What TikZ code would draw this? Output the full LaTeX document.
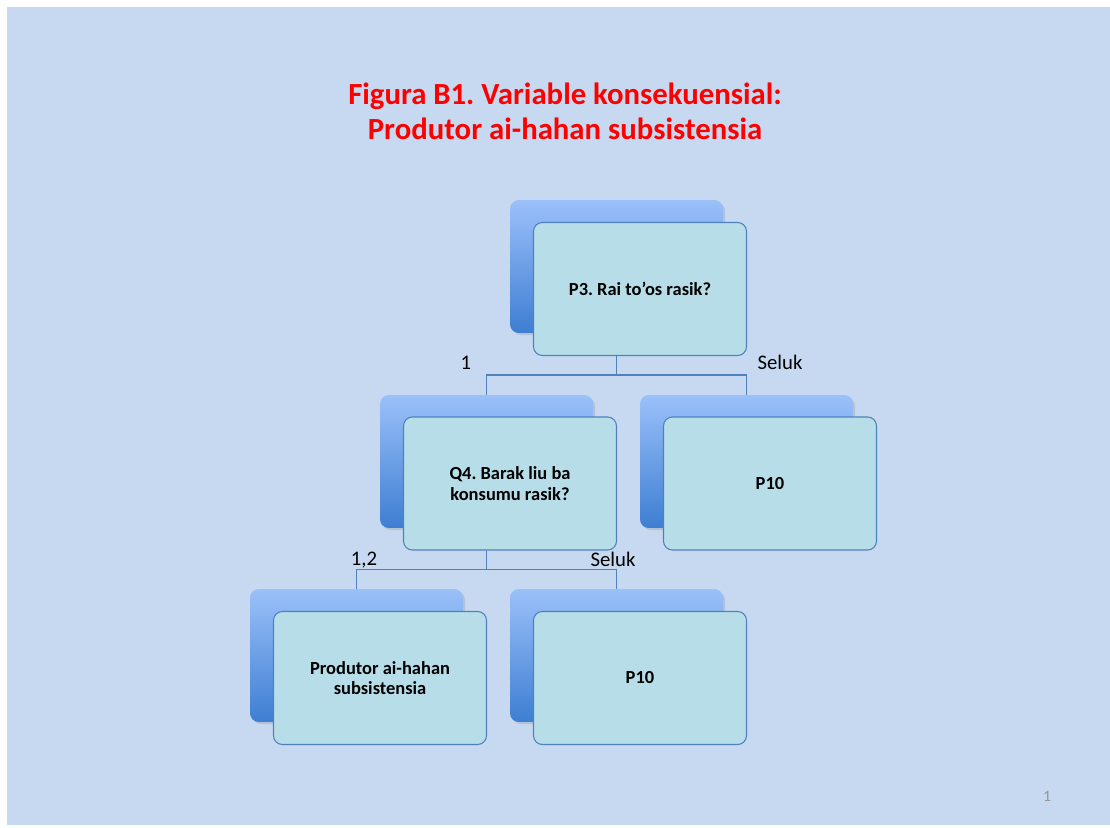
\documentclass[tikz,border=0pt]{standalone}
\usepackage{fontspec}
\setmainfont{Carlito}
\usepackage{tikz}
\usetikzlibrary{positioning, calc, shadows}
\definecolor{slidebg}{RGB}{198,217,240}
\definecolor{boxfill}{RGB}{183,222,232}
\definecolor{boxline}{RGB}{79,129,189}
\definecolor{backtop}{RGB}{155,192,250}
\definecolor{backbot}{RGB}{62,126,210}
\definecolor{titlered}{RGB}{255,0,0}
\definecolor{pagegray}{RGB}{150,150,150}
\frenchspacing
\tikzset{
  backbox/.style={rectangle, top color=backtop, bottom color=backbot,
    minimum width=4.26cm, minimum height=2.66cm, rounded corners=5pt,
    drop shadow={opacity=0.25, shadow xshift=1.2pt, shadow yshift=-1.2pt}},
  frontbox/.style={rectangle, draw=boxline, fill=boxfill,
    minimum width=4.26cm, minimum height=2.66cm, rounded corners=5pt,
    line width=0.6pt, align=center,
    font=\fontsize{10.5}{11.6}\selectfont\bfseries},
  conn/.style={draw=boxline, line width=0.6pt},
  branch/.style={font=\fontsize{11.8}{14}\selectfont}
}

\begin{document}
\begin{tikzpicture}[x=0.02cm, y=-0.02cm]
  % Slide
  \useasboundingbox (0,0) rectangle (1110,828);
  \fill[white] (0,0) rectangle (1110,828);
  \fill[slidebg] (7,7) rectangle (1110,825);

  % Title
  \node[align=center, text=titlered, font=\fontsize{17.5}{20}\selectfont\bfseries]
    (title) at (565,111) {Figura B1. Variable konsekuensial:\\Produtor ai-hahan subsistensia};

  % Back boxes
  \node[backbox] (p3back) at (616.5,266.5) {};
  \node[backbox] (q4back) at (486.5,461.5) {};
  \node[backbox] (p10aback) at (746.5,461.5) {};
  \node[backbox] (prodback) at (356.5,655.5) {};
  \node[backbox] (p10bback) at (616.5,655.5) {};

  % Front boxes
  \node[frontbox] (p3) at (640,289) {P3. Rai to’os rasik?};
  \node[frontbox] (q4) at (510,483.5) {Q4. Barak liu ba\\konsumu rasik?};
  \node[frontbox] (p10a) at (770,483.5) {P10};
  \node[frontbox] (prod) at (380,678) {Produtor ai-hahan\\subsistensia};
  \node[frontbox] (p10b) at (640,678) {P10};

  % Connectors
  \draw[conn] (p3back.south |- p3.south) -- ++(0,19) -| (q4back.north);
  \draw[conn] (p3back.south |- p3.south) -- ++(0,19) -| (p10aback.north);
  \draw[conn] (q4back.south |- q4.south) -- ++(0,19) -| (prodback.north);
  \draw[conn] (q4back.south |- q4.south) -- ++(0,19) -| (p10bback.north);

  % Branch labels
  \node[branch] (l1) at (466,363) {1};
  \node[branch] (l1s) at (780,362) {Seluk};
  \node[branch] (l2) at (364,560) {1,2};
  \node[branch] (l2s) at (613,559) {Seluk};

  % Page number
  \node[text=pagegray, font=\fontsize{9}{10}\selectfont] (pgnum) at (1047,796) {1};
\end{tikzpicture}
\end{document}
